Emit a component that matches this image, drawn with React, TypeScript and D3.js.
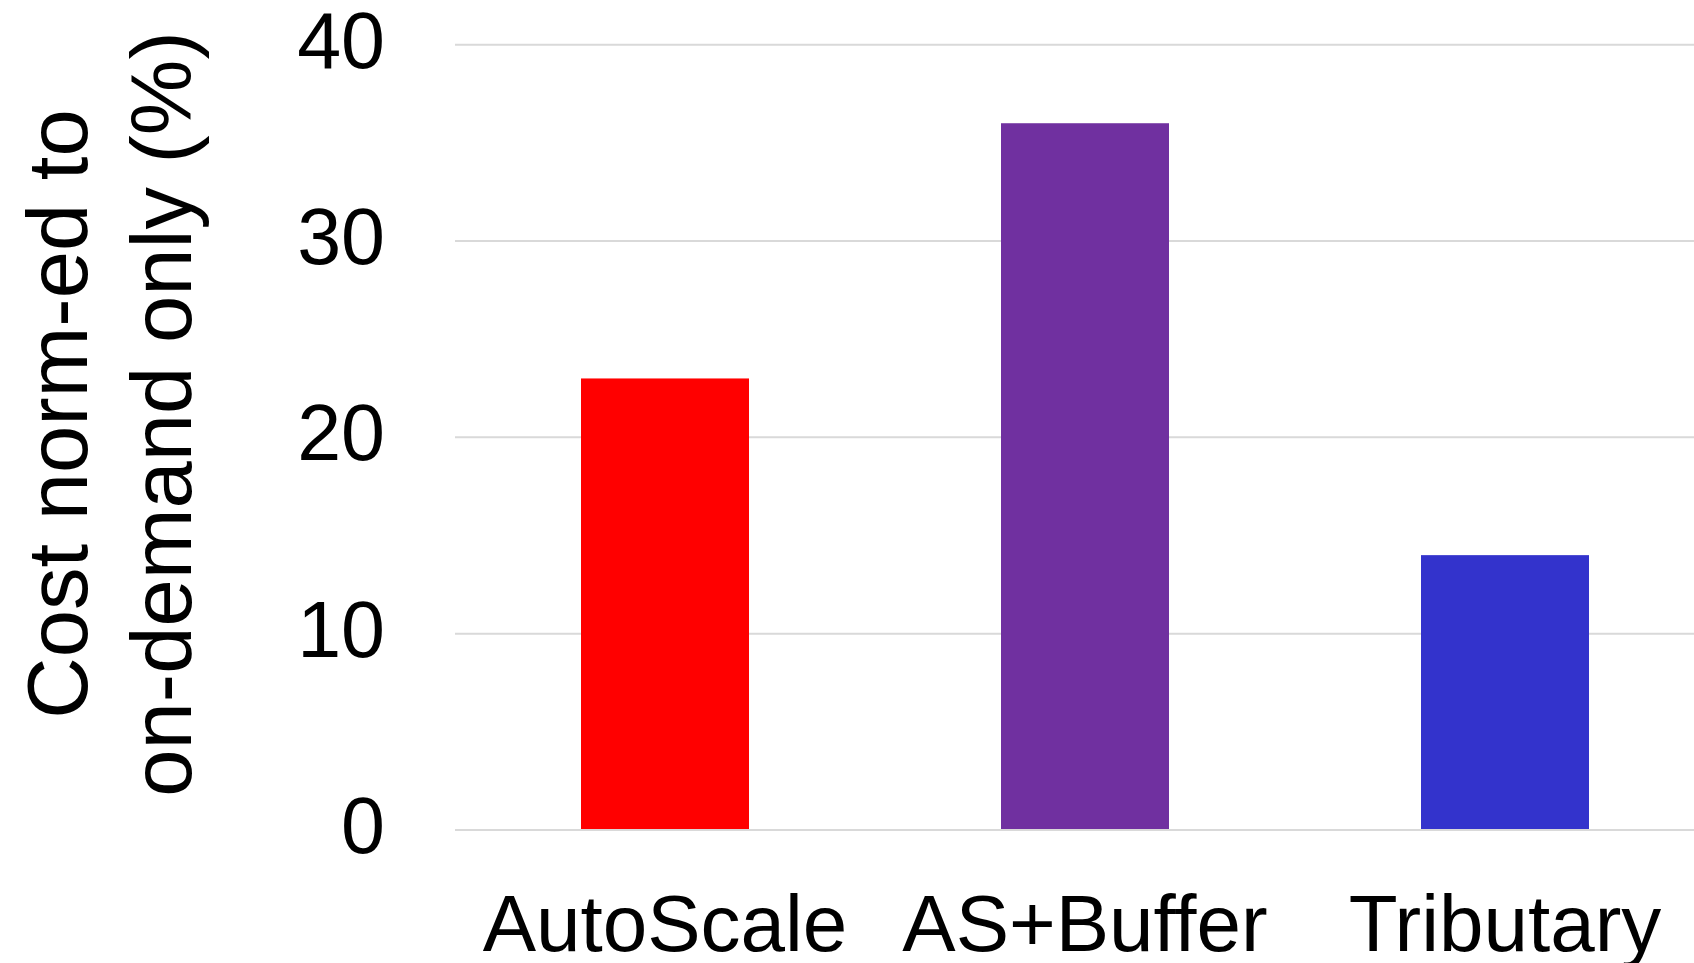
import React from "react";
import * as d3 from "d3";

// Cost of each scaling strategy, normalised to on-demand only (%)
const categories: string[] = ["AutoScale", "AS+Buffer", "Tributary"];
const costValues: number[] = [23, 36, 14];
const barColors: string[] = ["#ff0000", "#7030a0", "#3333cc"];
const yTicks: number[] = [0, 10, 20, 30, 40];
const yTitleLines: string[] = ["Cost norm-ed to", "on-demand only (%)"];

const WIDTH = 1694;
const HEIGHT = 963;
const FONT = "'Liberation Sans', Arial, Helvetica, sans-serif";

export default function App() {
  const plotLeft = 455;
  const plotTop = 44.7;
  const plotBottom = 830;

  const x = d3
    .scaleBand<string>()
    .domain(categories)
    .range([plotLeft, plotLeft + 1260])
    .paddingInner(0.6)
    .paddingOuter(0.3);

  const y = d3.scaleLinear().domain([0, 40]).range([plotBottom, plotTop]);

  const titleCenterY = 414;

  return (
    <svg
      width={WIDTH}
      height={HEIGHT}
      viewBox={`0 0 ${WIDTH} ${HEIGHT}`}
      style={{ position: "absolute", left: 0, top: 0, background: "#ffffff" }}
      fontFamily={FONT}
    >
      <rect x={0} y={0} width={WIDTH} height={HEIGHT} fill="#ffffff" />

      {/* horizontal gridlines */}
      {yTicks.map((t) => (
        <line
          key={`g${t}`}
          x1={plotLeft}
          x2={WIDTH}
          y1={y(t)}
          y2={y(t)}
          stroke="#d9d9d9"
          strokeWidth={2}
        />
      ))}

      {/* bars */}
      {categories.map((c, i) => (
        <rect
          key={c}
          x={x(c)}
          y={y(costValues[i])}
          width={x.bandwidth()}
          height={y(0) - y(costValues[i]) - 1}
          fill={barColors[i]}
        />
      ))}

      {/* y tick labels */}
      {yTicks.map((t) => (
        <text
          key={`t${t}`}
          x={385}
          y={y(t) + 23}
          textAnchor="end"
          fontSize={79}
          fill="#000"
        >
          {t}
        </text>
      ))}

      {/* category labels */}
      {categories.map((c) => (
        <text
          key={`l${c}`}
          x={(x(c) as number) + x.bandwidth() / 2}
          y={951}
          textAnchor="middle"
          fontSize={80}
          fill="#000"
        >
          {c}
        </text>
      ))}

      {/* y axis title, two rotated lines */}
      {yTitleLines.map((line, i) => {
        const bx = 87 + i * 103.6;
        return (
          <text
            key={`yt${i}`}
            transform={`translate(${bx},${titleCenterY}) rotate(-90)`}
            textAnchor="middle"
            fontSize={85}
            fill="#000"
          >
            {line}
          </text>
        );
      })}
    </svg>
  );
}
